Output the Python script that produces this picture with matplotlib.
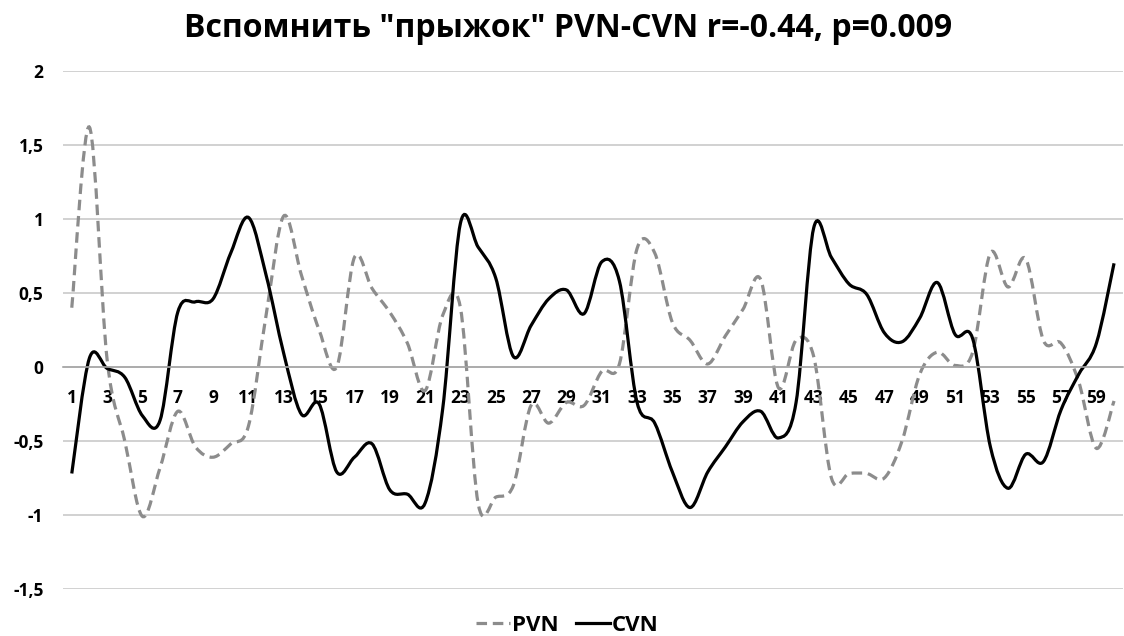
import matplotlib.pyplot as plt
from matplotlib.path import Path
from matplotlib.patches import PathPatch
from matplotlib.lines import Line2D
from matplotlib.ticker import FuncFormatter

plt.rcParams['font.family'] = ['Open Sans', 'DejaVu Sans']

# point numbers 1..60
points = list(range(1, 61))

pvn = [0.40, 1.62, 0.05, -0.50, -1.01, -0.68, -0.30, -0.54, -0.61, -0.52,
       -0.40, 0.35, 1.02, 0.62, 0.25, 0.00, 0.74, 0.53, 0.37, 0.16,
       -0.16, 0.35, 0.40, -0.92, -0.88, -0.80, -0.26, -0.38, -0.24, -0.26,
       -0.03, 0.02, 0.80, 0.77, 0.30, 0.18, 0.02, 0.21, 0.39, 0.59,
       -0.14, 0.18, 0.07, -0.75, -0.72, -0.72, -0.75, -0.50, -0.05, 0.10,
       0.01, 0.10, 0.77, 0.54, 0.73, 0.18, 0.16, -0.10, -0.55, -0.23]

cvn = [-0.72, 0.06, -0.01, -0.07, -0.33, -0.36, 0.37, 0.44, 0.46, 0.77,
       1.01, 0.62, 0.09, -0.32, -0.25, -0.71, -0.61, -0.52, -0.83, -0.86,
       -0.92, -0.28, 0.97, 0.81, 0.60, 0.07, 0.28, 0.46, 0.52, 0.36,
       0.71, 0.58, -0.24, -0.38, -0.71, -0.95, -0.71, -0.54, -0.37, -0.30,
       -0.48, -0.24, 0.94, 0.74, 0.56, 0.49, 0.23, 0.17, 0.33, 0.57,
       0.22, 0.19, -0.54, -0.82, -0.59, -0.64, -0.29, -0.05, 0.16, 0.70]

title = 'Вспомнить "прыжок" PVN-CVN r=-0.44, p=0.009'


def smooth_path(xs, ys):
    # Excel-style smoothed line: bezier segments through every point
    n = len(xs)
    verts = [(xs[0], ys[0])]
    codes = [Path.MOVETO]
    for i in range(n - 1):
        x0, y0 = (xs[i - 1], ys[i - 1]) if i > 0 else (xs[i], ys[i])
        x3, y3 = (xs[i + 2], ys[i + 2]) if i + 2 < n else (xs[i + 1], ys[i + 1])
        c1 = (xs[i] + (xs[i + 1] - x0) / 6, ys[i] + (ys[i + 1] - y0) / 6)
        c2 = (xs[i + 1] - (x3 - xs[i]) / 6, ys[i + 1] - (y3 - ys[i]) / 6)
        verts += [c1, c2, (xs[i + 1], ys[i + 1])]
        codes += [Path.CURVE4] * 3
    return Path(verts, codes)


fig = plt.figure(figsize=(11.24, 6.36), dpi=100)
ax = fig.add_axes([0.056, 0.074, 0.943, 0.8145])

pvn_style = dict(color='#8c8c8c', linewidth=2.3, linestyle=(0, (3.3, 1.8)))
cvn_style = dict(color='black', linewidth=2.3)

ax.add_patch(PathPatch(smooth_path(points, pvn), fill=False, capstyle='butt', **pvn_style))
ax.add_patch(PathPatch(smooth_path(points, cvn), fill=False, **cvn_style))

ax.set_xlim(0.5, 60.5)
ax.set_ylim(-1.5, 2)
ax.set_yticks([-1.5, -1, -0.5, 0, 0.5, 1, 1.5, 2])
ax.yaxis.set_major_formatter(FuncFormatter(lambda v, p: ('%g' % v).replace('.', ',')))
ax.set_xticks(points[::2])
ax.grid(axis='y', color='#c9c9c9', linewidth=1.2)
ax.set_axisbelow(True)

# category axis crosses at zero
for s in ['top', 'right', 'left']:
    ax.spines[s].set_visible(False)
ax.spines['bottom'].set_position(('data', 0))
ax.spines['bottom'].set_color('#a6a6a6')
ax.spines['bottom'].set_linewidth(1.2)
ax.tick_params(axis='both', length=0, labelsize=12.5)
ax.tick_params(axis='x', pad=16)
ax.tick_params(axis='y', pad=14)
for lab in ax.get_xticklabels() + ax.get_yticklabels():
    lab.set_fontweight('bold')

fig.text(0.505, 0.955, title, fontsize=23, fontweight='bold', ha='center', va='center')

handles = [Line2D([], [], **pvn_style), Line2D([], [], **cvn_style)]
fig.legend(handles, ['PVN', 'CVN'], loc='center', bbox_to_anchor=(0.505, 0.017),
           ncol=2, frameon=False, handlelength=1.5, handletextpad=0.1,
           columnspacing=0.8, prop={'weight': 'bold', 'size': 16})

fig.savefig('out.png', dpi=100)
